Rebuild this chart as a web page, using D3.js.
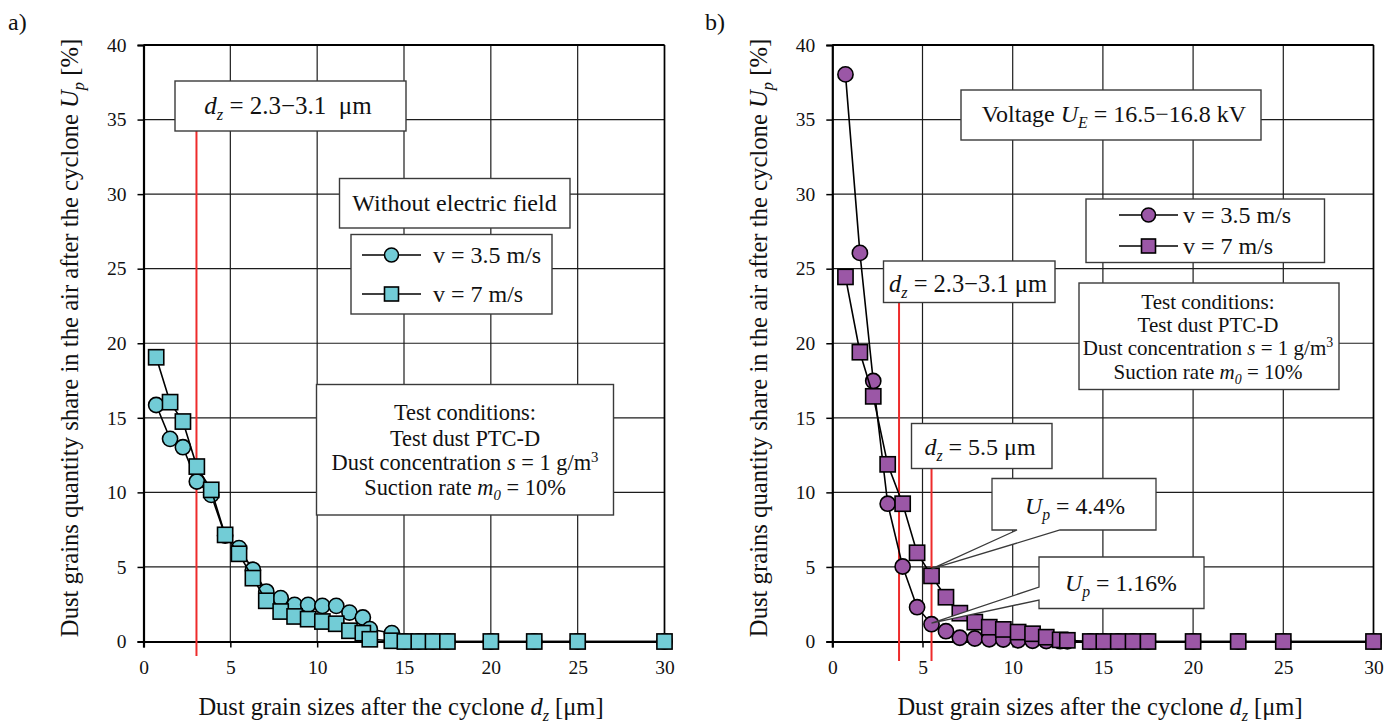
<!DOCTYPE html>
<html>
<head>
<meta charset="utf-8">
<script src="https://cdn.jsdelivr.net/npm/d3@7"></script>
<style>
  html, body { margin: 0; padding: 0; background: #fff; }
  svg { display: block; }
  text { font-family: "Liberation Serif", "Times New Roman", serif; fill: #111; }
</style>
</head>
<body>
<svg id="chart" width="1396" height="724"></svg>
<script>
// Dust grain size classes after the cyclone, d_z [µm]
const grainSizes = [0.73, 1.53, 2.27, 3.07, 3.9, 4.7, 5.5, 6.3, 7.07, 7.9, 8.7, 9.48, 10.3,
                    11.1, 11.86, 12.63, 13.03, 14.3, 15.05, 15.85, 16.67, 17.5, 20, 22.5, 25, 30];

// a) without electric field, U_p [%]
const noFieldV35 = [15.86, 13.59, 13.03, 10.73, 9.83, 7.1, 6.26, 4.81, 3.35, 2.91, 2.46, 2.46, 2.39,
                    2.39, 1.94, 1.61, 0.83, 0.56, 0, 0, 0, 0, 0, 0, 0, 0];
const noFieldV7  = [19.06, 16.05, 14.75, 11.73, 10.17, 7.15, 5.88, 4.25, 2.73, 2.01, 1.68, 1.5, 1.34,
                    1.19, 0.72, 0.56, 0.15, 0.05, 0, 0, 0, 0, 0, 0, 0, 0];

// b) voltage U_E = 16.5–16.8 kV, U_p [%]
const fieldV35 = [38.03, 26.06, 17.47, 9.24, 5.03, 2.3, 1.16, 0.69, 0.25, 0.2, 0.15, 0.13, 0.08,
                  0.05, 0.03, 0.02, 0.01, 0, 0, 0, 0, 0, 0, 0, 0, 0];
const fieldV7  = [24.45, 19.4, 16.44, 11.88, 9.24, 5.95, 4.4, 2.97, 1.9, 1.3, 0.96, 0.81, 0.63,
                  0.52, 0.29, 0.11, 0.08, 0, 0, 0, 0, 0, 0, 0, 0, 0];

// Axis ticks
const xTicks = [0, 5, 10, 15, 20, 25, 30];
const yTicks = [0, 5, 10, 15, 20, 25, 30, 35, 40];

// Marked grain sizes (red lines) and labelled values
const cutLineA = [3.05];
const cutLinesB = [3.7, 5.5];
const markedSize = 5.5;
const markedV7 = 4.4;
const markedV35 = 1.16;

const svg = d3.select("#chart");
const SERIF = '"Liberation Serif", "Times New Roman", serif';

// Writes a line of text made of segments: {t, i: italic, sub: subscript, sup: superscript}
function rich(g, x, y, segs, size, anchor = "middle") {
  const t = g.append("text").attr("x", x).attr("y", y)
    .attr("text-anchor", anchor).attr("font-size", size);
  let shift = 0;
  segs.forEach(s => {
    const ts = t.append("tspan").text(s.t);
    if (s.i) ts.attr("font-style", "italic");
    let target = 0;
    if (s.sub) target = size * 0.24;
    if (s.sup) target = -size * 0.36;
    if (s.sub || s.sup) ts.attr("font-size", size * 0.66);
    if (target !== shift) { ts.attr("dy", target - shift); shift = target; }
  });
  return t;
}

function panel(opts) {
  const g = svg.append("g");
  const x = d3.scaleLinear().domain([0, 30]).range(opts.xr);
  const y = d3.scaleLinear().domain([0, 40]).range([641.5, 45]);

  // grid
  g.append("g").selectAll("line").data(xTicks.slice(1)).join("line")
    .attr("x1", d => x(d)).attr("x2", d => x(d)).attr("y1", y(0)).attr("y2", y(40))
    .attr("stroke", "#1c1c1c").attr("stroke-width", 1.2);
  g.append("g").selectAll("line").data(yTicks.slice(1)).join("line")
    .attr("x1", x(0)).attr("x2", x(30)).attr("y1", d => y(d)).attr("y2", d => y(d))
    .attr("stroke", "#1c1c1c").attr("stroke-width", 1.2);
  // frame
  g.append("line").attr("x1", x(0)).attr("x2", x(30)).attr("y1", y(40)).attr("y2", y(40))
    .attr("stroke", "#000").attr("stroke-width", 2);
  g.append("line").attr("x1", x(30)).attr("x2", x(30)).attr("y1", y(0)).attr("y2", y(40))
    .attr("stroke", "#000").attr("stroke-width", 1.6);

  // axes
  const yAxis = d3.axisLeft(y).tickValues(yTicks).tickSize(6).tickPadding(11);
  const ya = g.append("g").attr("transform", `translate(${x(0)},0)`).call(yAxis);
  const xAxis = d3.axisBottom(x).tickValues(xTicks).tickSize(6).tickPadding(13);
  const xa = g.append("g").attr("transform", `translate(0,${y(0)})`).call(xAxis);
  [ya, xa].forEach(a => {
    a.select(".domain").attr("stroke", "#000").attr("stroke-width", 2.2);
    a.selectAll(".tick line").attr("stroke", "#000").attr("stroke-width", 1.5);
    a.selectAll(".tick text").attr("font-family", SERIF).attr("font-size", 19.5).attr("fill", "#111");
  });

  // axis titles
  rich(g, opts.xTitleX, 715,
    [{t: "Dust grain sizes after the cyclone "}, {t: "d", i: 1}, {t: "z", i: 1, sub: 1}, {t: " [\u03bcm]"}], 24.5);
  const yt = g.append("g").attr("transform", `translate(${opts.yTitleX},338) rotate(-90)`);
  rich(yt, 0, 0,
    [{t: "Dust grains quantity share in the air after the cyclone "}, {t: "U", i: 1}, {t: "p", i: 1, sub: 1}, {t: " [%]"}], 24.7);

  // panel letter
  g.append("text").attr("x", opts.letterX).attr("y", 30).attr("font-size", 24).text(opts.letter);

  // red marker lines
  opts.cuts.forEach(c => {
    g.append("line").attr("x1", x(c.v)).attr("x2", x(c.v)).attr("y1", c.top).attr("y2", c.bottom)
      .attr("stroke", "#ee2b2b").attr("stroke-width", 2);
  });

  // series
  const line = d3.line().x(d => x(d[0])).y(d => y(d[1]));
  opts.series.forEach(s => {
    const pts = grainSizes.map((v, i) => [v, s.values[i]]);
    g.append("path").datum(pts).attr("d", line).attr("fill", "none")
      .attr("stroke", "#000").attr("stroke-width", 1.6);
    if (s.shape === "circle") {
      g.append("g").selectAll("circle").data(pts).join("circle")
        .attr("cx", d => x(d[0])).attr("cy", d => y(d[1])).attr("r", 7.6)
        .attr("fill", opts.fill).attr("stroke", "#000").attr("stroke-width", 1.6);
    } else {
      g.append("g").selectAll("rect").data(pts).join("rect")
        .attr("x", d => x(d[0]) - 7.6).attr("y", d => y(d[1]) - 7.6)
        .attr("width", 15.2).attr("height", 15.2)
        .attr("fill", opts.fill).attr("stroke", "#000").attr("stroke-width", 1.6);
    }
  });
  return {g, x, y};
}

function box(g, x0, y0, x1, y1) {
  return g.append("rect").attr("x", x0).attr("y", y0).attr("width", x1 - x0).attr("height", y1 - y0)
    .attr("fill", "#fff").attr("stroke", "#3a3a3a").attr("stroke-width", 1.4);
}

function legend(g, x0, y0, x1, y1, rows, fill, lx0, lx1, tx, size) {
  box(g, x0, y0, x1, y1);
  rows.forEach(r => {
    g.append("line").attr("x1", lx0).attr("x2", lx1).attr("y1", r.y).attr("y2", r.y)
      .attr("stroke", "#000").attr("stroke-width", 1.6);
    const cx = (lx0 + lx1) / 2;
    if (r.shape === "circle") {
      g.append("circle").attr("cx", cx).attr("cy", r.y).attr("r", 7).attr("fill", fill)
        .attr("stroke", "#000").attr("stroke-width", 1.6);
    } else {
      g.append("rect").attr("x", cx - 7).attr("y", r.y - 7).attr("width", 14).attr("height", 14)
        .attr("fill", fill).attr("stroke", "#000").attr("stroke-width", 1.6);
    }
    g.append("text").attr("x", tx).attr("y", r.y + 7.5).attr("font-size", size).text(r.label);
  });
}

function conditions(g, cx, x0, y0, x1, y1, baselines, size) {
  box(g, x0, y0, x1, y1);
  rich(g, cx, baselines[0], [{t: "Test conditions:"}], size);
  rich(g, cx, baselines[1], [{t: "Test dust PTC-D"}], size);
  rich(g, cx, baselines[2], [{t: "Dust concentration "}, {t: "s", i: 1}, {t: " = 1 g/m"}, {t: "3", sup: 1}], size);
  rich(g, cx, baselines[3], [{t: "Suction rate "}, {t: "m", i: 1}, {t: "0", i: 1, sub: 1}, {t: " = 10%"}], size);
}

// ---------- a) without electric field ----------
const A = panel({
  xr: [143.5, 664.5], yTitleX: 78, xTitleX: 401, letter: "a)", letterX: 8, fill: "#72ccd6",
  cuts: [{v: cutLineA[0], top: 131, bottom: 656}],
  series: [{values: noFieldV35, shape: "circle"}, {values: noFieldV7, shape: "square"}]
});
box(A.g, 175, 81, 406, 131);
rich(A.g, 288, 114, [{t: "d", i: 1}, {t: "z", i: 1, sub: 1}, {t: " = 2.3\u22123.1\u00a0 \u03bcm"}], 25);
box(A.g, 339.5, 178.5, 570, 228);
rich(A.g, 454.5, 211, [{t: "Without electric field"}], 24);
legend(A.g, 351, 234.5, 552, 314,
  [{y: 255, shape: "circle", label: "v = 3.5 m/s"}, {y: 294, shape: "square", label: "v = 7 m/s"}],
  "#72ccd6", 362, 421, 433, 24);
conditions(A.g, 465, 316.5, 384.5, 613.5, 515, [420, 445.5, 470, 495], 22.4);

// ---------- b) with electric field ----------
const B = panel({
  xr: [832.3, 1373.5], yTitleX: 767, xTitleX: 1100, letter: "b)", letterX: 705, fill: "#9b57a6",
  cuts: [{v: cutLinesB[0], top: 302, bottom: 661}, {v: cutLinesB[1], top: 468, bottom: 661}],
  series: [{values: fieldV35, shape: "circle"}, {values: fieldV7, shape: "square"}]
});
box(B.g, 961, 90, 1261, 140);
rich(B.g, 1114, 122, [{t: "Voltage "}, {t: "U", i: 1}, {t: "E", i: 1, sub: 1}, {t: " = 16.5\u221216.8 kV"}], 24);
legend(B.g, 1086, 199, 1324.5, 262.5,
  [{y: 215, shape: "circle", label: "v = 3.5 m/s"}, {y: 246, shape: "square", label: "v = 7 m/s"}],
  "#9b57a6", 1119, 1178, 1183, 24);
conditions(B.g, 1208, 1079, 283, 1339, 389.5, [308.5, 332, 355, 378.5], 21);
box(B.g, 883.5, 261, 1055, 302.5);
rich(B.g, 968, 292, [{t: "d", i: 1}, {t: "z", i: 1, sub: 1}, {t: " = 2.3\u22123.1 \u03bcm"}], 24.5);
box(B.g, 911.5, 423.5, 1052, 468.5);
rich(B.g, 980, 455, [{t: "d", i: 1}, {t: "z", i: 1, sub: 1}, {t: " = 5.5 \u03bcm"}], 24);

// callouts pointing at the labelled points
function callout(g, x0, y0, x1, y1, wedge, tip) {
  let d;
  if (wedge.side === "bottom") {
    d = `M${x0},${y0}H${x1}V${y1}H${wedge.b}L${tip[0]},${tip[1]}L${wedge.a},${y1}H${x0}Z`;
  } else {
    d = `M${x0},${y0}H${x1}V${y1}H${x0}V${wedge.b}L${tip[0]},${tip[1]}L${x0},${wedge.a}Z`;
  }
  g.append("path").attr("d", d).attr("fill", "#fff").attr("stroke", "#3a3a3a").attr("stroke-width", 1.3);
}
callout(B.g, 992, 478.5, 1156, 530, {side: "bottom", a: 1017, b: 1060},
  [B.x(markedSize), B.y(markedV7) - 7]);
rich(B.g, 1075, 514, [{t: "U", i: 1}, {t: "p", i: 1, sub: 1}, {t: " = " + markedV7 + "%"}], 23.8);
callout(B.g, 1039, 557, 1204, 608.5, {side: "left", a: 587, b: 600},
  [B.x(markedSize), B.y(markedV35) - 1]);
rich(B.g, 1121, 591, [{t: "U", i: 1}, {t: "p", i: 1, sub: 1}, {t: " = " + markedV35 + "%"}], 23.8);
</script>
</body>
</html>
